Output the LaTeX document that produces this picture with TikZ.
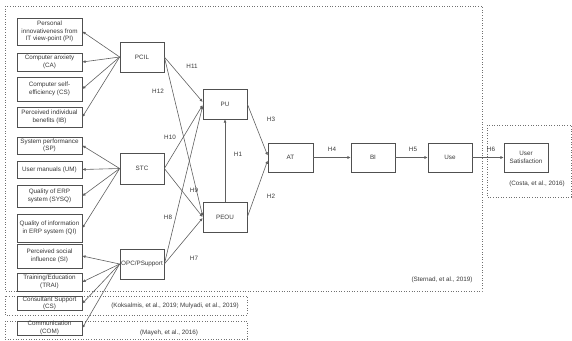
\documentclass[tikz,border=0pt]{standalone}
\usepackage{fontspec}
\setmainfont{Liberation Sans}
\usetikzlibrary{arrows.meta,calc}
\definecolor{boxc}{HTML}{505050}
\definecolor{linec}{HTML}{606060}
\definecolor{txtc}{HTML}{383838}
\definecolor{dotc}{HTML}{707070}
\tikzset{
  bx/.style={draw=boxc,line width=0.7pt,fill=white,inner sep=0pt,align=center,text=txtc,font=\fontsize{6.3}{7.6}\selectfont},
  conn/.style={draw=linec,line width=0.6pt,-{Latex[length=3.2pt,width=3pt]}},
  hlab/.style={text=txtc,font=\fontsize{6.3}{7.6}\selectfont,inner sep=0pt},
  dotbox/.style={draw=dotc,dotted,line width=0.6pt},
  cite/.style={text=txtc,font=\fontsize{6.3}{7.6}\selectfont,inner sep=0pt}
}
\begin{document}
\begin{tikzpicture}[x=1pt,y=-1pt]
\useasboundingbox (0,0) rectangle (572,340);
% dotted frames
\draw[dotbox] (5,6) rectangle (482,291);
\draw[dotbox] (5,296) rectangle (247,315);
\draw[dotbox] (5,321) rectangle (247,339);
\draw[dotbox] (487,125) rectangle (571,197);
% left boxes
\node[bx,minimum width=65pt,minimum height=27pt] (PI) at (49.5,31.5) {Personal\\innovativeness from\\IT view-point (PI)};
\node[bx,minimum width=65pt,minimum height=18pt] (CA) at (49.5,62) {Computer anxiety\\(CA)};
\node[bx,minimum width=65pt,minimum height=24pt] (CS) at (49.5,89) {Computer self-\\efficiency (CS)};
\node[bx,minimum width=65pt,minimum height=20pt] (IB) at (49.5,117) {Perceived individual\\benefits (IB)};
\node[bx,minimum width=65pt,minimum height=17pt] (SP) at (49.5,145.5) {System performance\\(SP)};
\node[bx,minimum width=65pt,minimum height=17pt] (UM) at (49.5,169.5) {User manuals (UM)};
\node[bx,minimum width=65pt,minimum height=22pt] (SYSQ) at (49.5,196) {Quality of ERP\\system (SYSQ)};
\node[bx,minimum width=65pt,minimum height=28pt] (QI) at (49.5,228) {Quality of information\\in ERP system (QI)};
\node[bx,minimum width=65pt,minimum height=24pt] (SI) at (49.5,256) {Perceived social\\influence (SI)};
\node[bx,minimum width=65pt,minimum height=18pt] (TRAI) at (49.5,282) {Training/Education\\(TRAI)};
\node[bx,minimum width=65pt,minimum height=13pt] (CSU) at (49.5,303.5) {Consultant Support\\(CS)};
\node[bx,minimum width=65pt,minimum height=14pt] (COM) at (49.5,328) {Communication\\(COM)};
% middle boxes
\node[bx,minimum width=44pt,minimum height=30pt] (PCIL) at (142,57) {PCIL};
\node[bx,minimum width=44pt,minimum height=31pt] (STC) at (142,168.5) {STC};
\node[bx,minimum width=44pt,minimum height=30pt] (OPC) at (142,264) {OPC/PSupport};
\node[bx,minimum width=44pt,minimum height=30pt] (PU) at (225,104) {PU};
\node[bx,minimum width=44pt,minimum height=30pt] (PEOU) at (225,217) {PEOU};
\node[bx,minimum width=45pt,minimum height=29pt] (AT) at (290.5,157.5) {AT};
\node[bx,minimum width=44pt,minimum height=29pt] (BI) at (373,157.5) {BI};
\node[bx,minimum width=44pt,minimum height=29pt] (USE) at (450,157.5) {Use};
\node[bx,minimum width=44pt,minimum height=29pt] (US) at (526,157.5) {User\\Satisfaction};
% fan-out arrows
\foreach \t in {PI,CA,CS,IB} \draw[conn] (PCIL.west) -- (\t.east);
\foreach \t in {SP,UM,SYSQ,QI} \draw[conn] (STC.west) -- (\t.east);
\foreach \t in {SI,TRAI,CSU,COM} \draw[conn] (OPC.west) -- (\t.east);
% to PU / PEOU
\draw[conn] (PCIL.east) -- ([yshift=2pt]PU.west);
\draw[conn] (PCIL.east) -- ([yshift=1pt]PEOU.west);
\draw[conn] (STC.east) -- ([yshift=-1pt]PU.west);
\draw[conn] (STC.east) -- (PEOU.west);
\draw[conn] (OPC.east) -- ([yshift=-2pt]PU.west);
\draw[conn] (OPC.east) -- ([yshift=-1pt]PEOU.west);
\draw[conn] (PEOU.north) -- (PU.south);
\draw[conn] (PU.east) -- ([yshift=2pt]AT.west);
\draw[conn] (PEOU.east) -- ([yshift=-3pt]AT.west);
\draw[conn] (AT.east) -- (BI.west);
\draw[conn] (BI.east) -- (USE.west);
\draw[conn] (USE.east) -- (US.west);
% hypothesis labels
\node[hlab] (h11) at (192,66) {H11};
\node[hlab] (h12) at (158,91) {H12};
\node[hlab] (h10) at (170,137) {H10};
\node[hlab] (h9) at (194,190) {H9};
\node[hlab] (h8) at (168,217) {H8};
\node[hlab] (h7) at (194,258) {H7};
\node[hlab] (h1) at (238,154) {H1};
\node[hlab] (h3) at (271,119) {H3};
\node[hlab] (h2) at (271,196) {H2};
\node[hlab] (h4) at (332,149) {H4};
\node[hlab] (h5) at (413,149) {H5};
\node[hlab] (h6) at (491,149) {H6};
% citations
\node[cite] (c1) at (442,280) {(Sternad, et al., 2019)};
\node[cite] (c2) at (537,184) {(Costa, et al., 2016)};
\node[cite] (c3) at (175,306) {(Koksalmis, et al., 2019; Mulyadi, et al., 2019)};
\node[cite] (c4) at (169,333) {(Mayeh, et al., 2016)};
\end{tikzpicture}
\end{document}
